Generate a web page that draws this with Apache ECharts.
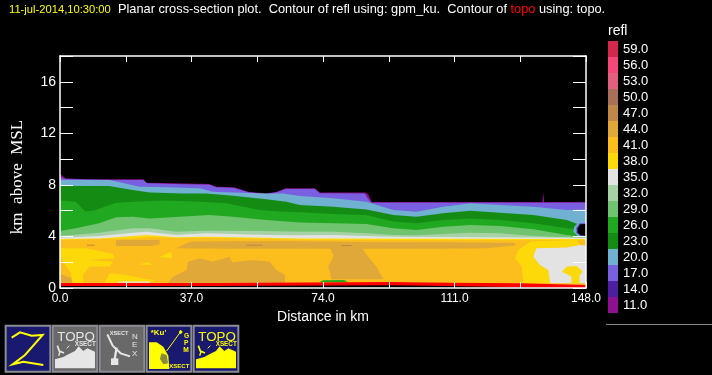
<!DOCTYPE html>
<html>
<head>
<meta charset="utf-8">
<style>html,body{margin:0;padding:0;background:#000}#chart{width:712px;height:375px}</style>
<script src="https://cdn.jsdelivr.net/npm/echarts@6/dist/echarts.min.js"></script>
</head>
<body>
<div id="chart"></div>
<script>
// colour scale
var scaleLabels = ['11.0','14.0','17.0','20.0','23.0','26.0','29.0','32.0','35.0','38.0','41.0','44.0','47.0','50.0','53.0','56.0','59.0'];
var scaleColors = ['#8c1090','#4c1ea0','#7860e0','#70b0d0','#148c14','#20a820','#70c470','#a6d2a6','#e3e3e3','#fdd90a','#fbbe1c','#e0a838','#c08848','#a87058','#e0607e','#f4487a','#d2284c'];

// top of each reflectivity layer, [km along section, km above MSL]
var top11 = [[0,8.84],[1.5,8.51],[7,8.43],[23.5,8.43],[24.2,8.17],[32,8.12],[42,8.07],[44,7.86],[49,7.81],[53,7.47],[58,7.34],[61,7.47],[63.5,7.73],[71.7,7.73],[73.1,7.4],[85.8,7.4],[86.7,7.3],[87.7,6.67],[135.7,6.67],[136,7.4],[136.2,6.67],[148,6.67]];
var top17 = [[0,8.6],[1.5,8.46],[15,8.38],[23.5,8.38],[24.5,8.12],[32,8.07],[42,8.02],[44,7.81],[49,7.76],[53,7.43],[58,7.3],[61,7.43],[63.5,7.68],[71.7,7.68],[73.1,7.35],[85.8,7.34],[86.7,6.9],[87.7,6.62],[136,6.62],[148,6.62]];
var top20 = [[0,8.38],[14,8.38],[22.4,7.86],[29.9,7.81],[39.3,7.73],[43,7.47],[48.7,7.4],[53.4,7.38],[58,7.34],[62.8,7.34],[67.5,7.14],[76.9,6.96],[86.2,6.7],[93.8,6.05],[100.3,5.92],[107.8,6.31],[115.4,6.57],[123.8,6.44],[133.2,6.31],[142.6,6.05],[148,6.1]];
var top23 = [[0,7.91],[13.8,7.91],[20.5,7.6],[25.2,7.4],[34.6,7.34],[41,7.34],[48.7,7.16],[58,6.88],[63.7,6.7],[67.5,6.44],[76.9,6.31],[86.2,6.1],[93.8,5.66],[100.3,5.53],[107.8,5.79],[115.4,5.99],[123.8,5.84],[133.2,5.66],[142.6,5.28],[145,5.02],[148,4.8]];
var top26 = [[0,6.78],[4.4,6.7],[7.2,5.92],[10,6.05],[15.8,6.62],[20.5,6.7],[29.9,6.78],[39.3,6.7],[46.8,6.57],[56.2,6.05],[62.8,5.92],[67.5,5.87],[76.9,5.74],[86.2,5.66],[93.8,5.15],[100.3,5.02],[107.8,5.28],[115.4,5.4],[123.8,5.28],[133.2,5.02],[142.6,4.63],[148,4.5]];
var top29 = [[0,4.42],[4.4,4.63],[11,5.02],[15.8,5.48],[20.5,5.53],[25.2,5.4],[42,5.66],[48.7,5.53],[58,5.28],[67.5,5.09],[76.9,5.02],[86.2,4.97],[93.8,4.63],[100.3,4.5],[107.8,4.76],[115.4,4.89],[123.8,4.81],[133.2,4.55],[142.6,4.11],[148,3.93]];
var top32 = [[0,4.03],[11,4.29],[20.5,4.63],[25.2,4.63],[32.7,4.37],[41,4.45],[56,4.42],[67.5,4.37],[76.9,4.37],[86.2,4.24],[93.8,4.11],[100.3,4.09],[107.8,4.19],[115.4,4.29],[123.8,4.24],[133.2,4.03],[142.6,3.93],[148,3.85]];
var top35 = [[0,3.9],[11,4.03],[20.5,4.29],[24.5,4.37],[32.7,4.11],[41,4.24],[58,4.11],[67.5,4.1],[76.9,4.11],[86.2,4.03],[93.8,3.98],[148,3.9]];
var top38 = [[0,3.8],[11,3.85],[20.5,4.03],[24.5,4.11],[32.7,3.93],[41,3.98],[58,3.9],[67.5,3.85],[148,3.8]];
var top41 = [[0,3.72],[11,3.8],[20.5,3.85],[24.5,3.93],[32.7,3.87],[41,3.9],[58,3.82],[67.5,3.75],[90,3.72],[148,3.7]];

// closed patches inside the rain layer
var band44a = [[15.8,3.72],[28,3.72],[28,3.4],[26,3.26],[15.8,3.26]];
var band44b = [[32.7,3.08],[35,3.4],[37,3.6],[48,3.62],[67.5,3.62],[90,3.55],[110,3.55],[128,3.5],[128,3.3],[120,3.08],[105,3.05],[90,3.05],[80,3.05],[69,3.05],[50,3.05]];
var blob44a = [[0,1.1],[3,0.8],[3.5,0.41],[0,0.41]];
var blob44b = [[30.4,0.41],[31.8,0.88],[35.6,1.4],[36,2.04],[39.3,2.3],[43,2.04],[47.7,2.43],[48.5,2.0],[54.3,2.17],[59,2.04],[60.9,1.4],[63.3,1],[63.3,0.41]];
var blob44c = [[76,3.1],[77,2.5],[75.5,1.66],[76.4,0.67],[91,0.67],[89,1.66],[86.7,2.43],[85,3.1]];
var blob38a = [[0,3.08],[7.4,3.08],[14.9,2.64],[15.4,2.3],[8.3,2.17],[14.9,2.04],[14,1.66],[8.3,1.66],[6.4,1],[6.6,0.41],[3.6,0.41],[3.1,1.14],[0,2.43]];
var blob38b = [[28,2.4],[31.3,2.82],[31.5,2.3]];
var blob38c = [[22,1.8],[24.5,2],[26.2,1.8]];
var blob38d = [[12.5,0.41],[14,1.14],[18.6,1],[24.3,0.67],[27,0.62],[25.2,0.41]];
var blob38e = [[130.4,0.36],[129.9,1.66],[128,2.3],[129,2.95],[132.3,3.6],[145.4,3.72],[146.3,3.34],[142.6,3.15],[134,3.08],[133.2,2.43],[135,1.78],[137.4,1.4],[137.9,0.36]];
var blob35a = [[134,3.08],[133.2,2.43],[135,1.78],[137.4,1.4],[137.9,0.36],[148,0.36],[148,3.3],[146.3,3.34],[142.6,3.15]];
var blob38f = [[143.9,0.36],[143.9,0.9],[141.2,1.27],[142.6,1.66],[145.4,1.71],[147.1,1.27],[146.2,1],[146.2,0.36]];
var blob35b = [[15.8,0.41],[17,0.5],[25,0.5],[25.5,0.41]];
var blob26a = [[73,0.45],[74,0.6],[80,0.62],[81,0.45]];
var blob47a = [[7.6,3.36],[9.7,3.36],[9.7,3.28],[7.6,3.28]];
var blob47b = [[52.4,3.36],[57.1,3.36],[57.1,3.28],[52.4,3.28]];
var blob47c = [[79.2,3.33],[82,3.33],[82,3.25],[79.2,3.25]];
// hole in the echo near the right edge
var ring20 = [[148,5.15],[145.9,5.09],[144.7,4.76],[144.4,4.37],[145.9,3.98],[148,3.93]];
var ring17 = [[148,5.07],[146.1,5.02],[145.2,4.68],[145.2,4.29],[146.3,4.03],[148,3.98]];
var ring00 = [[148,4.97],[146.3,4.94],[145.6,4.63],[145.6,4.29],[146.5,4.09],[148,4.03]];

// terrain
var topoTop = [[0,0.39],[43,0.39],[43,0.47],[93,0.47],[93,0.41],[108.8,0.41],[108.8,0.36],[129.5,0.36],[129.5,0.23],[148,0.23]];
var topoBase = [[0,0.16],[43,0.16],[43,0.21],[93,0.21],[93,0.16],[108.8,0.16],[108.8,0.05],[129.5,0.05],[129.5,0],[148,0]];

var xTicks = {min:0,max:148,interval:18.5};
var yTicks = {min:0,max:18,interval:2};

function colorOf(label){ return scaleColors[scaleLabels.indexOf(label)]; }

var layers = [
    [top11,'11.0'],[top17,'17.0'],[top20,'20.0'],[top23,'23.0'],[top26,'26.0'],[top29,'29.0'],
    [top32,'32.0'],[top35,'35.0'],[top38,'38.0'],[top41,'41.0']
];
var patches = [
    [band44a,'44.0'],[band44b,'44.0'],[blob44a,'44.0'],[blob44b,'44.0'],[blob44c,'44.0'],
    [blob38a,'38.0'],[blob38b,'38.0'],[blob38c,'38.0'],[blob38d,'38.0'],[blob38e,'38.0'],
    [blob35a,'35.0'],[blob38f,'38.0'],[blob35b,'35.0'],[blob26a,'26.0'],
    [blob47a,'47.0'],[blob47b,'47.0'],[blob47c,'47.0'],
    [ring20,'20.0'],[ring17,'17.0'],[ring00,null]
];

function areaSeries(pts,color,z){
    return {
        type:'line', z:z, data:pts, xAxisIndex:0, yAxisIndex:0, showSymbol:false, silent:true,
        lineStyle:{width:0}, areaStyle:{color:color,opacity:1,origin:'start'}
    };
}

var series = layers.map(function(l){ return areaSeries(l[0],colorOf(l[1]),3); });

// line series sit at z 3 by default, custom at 2
series.push({
    type:'custom', z:4, xAxisIndex:0, yAxisIndex:0, silent:true,
    data:patches.map(function(p,i){ return [i,1]; }),
    renderItem:function(params,api){
        var p = patches[params.dataIndex];
        return {
            type:'polygon',
            shape:{points:p[0].map(function(d){ return api.coord(d); })},
            style:{fill:p[1] ? colorOf(p[1]) : '#000'}
        };
    }
});
series.push(areaSeries(topoTop,'#ff0000',5));
series.push(areaSeries(topoBase,'#000',5));

// colour bar
series.push({
    type:'bar', xAxisIndex:2, yAxisIndex:2, silent:true, barCategoryGap:0,
    data:scaleColors.map(function(c){ return {value:1,itemStyle:{color:c}}; })
});

// icon strip, written in a 3x space
function icon(x,bg){
    return {type:'rect',shape:{x:x,y:32,width:134,height:138},style:{fill:bg,stroke:'#8c8c94',lineWidth:6}};
}
function txt(x,y,s,size,color,weight){
    return {type:'text',x:x,y:y,style:{text:s,font:(weight||'normal')+' '+size+'px "Liberation Sans"',fill:color,textVerticalAlign:'middle'}};
}
function poly(pts,color){ return {type:'polygon',shape:{points:pts},style:{fill:color}}; }
function curve(pts,color,w){ return {type:'polyline',shape:{points:pts},style:{stroke:color,lineWidth:w,fill:null}}; }
function topoIcon(dx,c){
    return [
        txt(172+dx,68,'TOPO',40,c),
        txt(224+dx,87,'XSECT',19,c,'bold'),
        poly([[165+dx,160],[165+dx,133],[190+dx,126],[205+dx,118],[225+dx,108],[236+dx,94],[250+dx,108],[262+dx,100],[285+dx,110],[285+dx,160]],c),
        curve([[172+dx,92],[178+dx,108],[192+dx,114]],c,5),
        curve([[200+dx,100],[208+dx,92]],c,3),
        curve([[180+dx,110],[176+dx,122]],c,4)
    ];
}
var iconParts = [icon(17,'#191970'),icon(158,'#696969'),icon(299,'#696969'),icon(440,'#191970'),icon(581,'#191970')];
iconParts.push(curve([[35,68],[60,52],[95,62],[128,60],[75,120],[38,148],[70,140],[130,150]],'#ffff00',6));
iconParts = iconParts.concat(topoIcon(0,'#e6e6e6'));
iconParts.push(txt(329,56,'XSECT',17,'#e6e6e6','bold'));
iconParts.push(txt(396,65,'N',24,'#e6e6e6'),txt(396,90,'E',24,'#e6e6e6'),txt(396,116,'X',24,'#e6e6e6'));
iconParts.push(curve([[322,58],[338,92],[362,115],[390,124]],'#e6e6e6',6));
iconParts.push(curve([[350,98],[344,132]],'#e6e6e6',7));
iconParts.push(poly([[333,130],[355,130],[355,150],[333,150]],'#e6e6e6'));
iconParts.push(txt(452,54,"*Ku'",24,'#ffff00','bold'));
iconParts.push(txt(552,62,'G',20,'#ffff00','bold'),txt(552,84,'P',20,'#ffff00','bold'),txt(550,106,'M',20,'#ffff00','bold'));
iconParts.push(txt(508,154,'XSECT',18,'#ffff00','bold'));
iconParts.push(poly([[447,82],[470,82],[490,95],[505,122],[508,162],[447,162]],'#ffff00'));
iconParts.push(poly([[484,115],[500,120],[504,145],[490,148],[480,132]],'#8a8a3c'));
iconParts.push(curve([[500,108],[542,50]],'#ffff00',3));
iconParts.push(poly([[542,44],[548,51],[542,58],[536,51]],'#ffff00'));
iconParts = iconParts.concat(topoIcon(423,'#ffff00'));

var titleFont = {fontFamily:'Liberation Sans',fontSize:12.8,fontWeight:'normal'};

var option = {
    backgroundColor:'#000',
    animation:false,
    title:{
        left:9, top:3, padding:0,
        text:'{d|11-jul-2014,10:30:00}{w|  Planar cross-section plot.  Contour of refl using: gpm_ku.  Contour of }{r|topo}{w| using: topo.}',
        textStyle:{
            fontWeight:'normal',
            rich:{
                d:{color:'#ffff00',fontFamily:'Liberation Sans',fontSize:11.2,fontWeight:'normal'},
                w:Object.assign({color:'#fff'},titleFont),
                r:Object.assign({color:'#ff0000'},titleFont)
            }
        }
    },
    grid:[
        {left:60,top:56,width:526,height:232},
        {left:608,top:41,width:10,height:272}
    ],
    xAxis:[
        {
            gridIndex:0,type:'value',position:'bottom',min:xTicks.min,max:xTicks.max,interval:xTicks.interval,z:10,
            name:'Distance in km',nameLocation:'middle',nameGap:18,
            nameTextStyle:{color:'#fff',fontFamily:'Liberation Sans',fontSize:14},
            axisLine:{onZero:false,lineStyle:{color:'#fff',width:1.5}},
            axisTick:{inside:true,length:6,lineStyle:{color:'#fff'}},
            splitLine:{show:false},
            axisLabel:{color:'#fff',fontFamily:'Liberation Sans',fontSize:12,margin:5,hideOverlap:false,showMinLabel:true,showMaxLabel:true,
                formatter:function(v){ return v % 37 === 0 ? v.toFixed(1) : ''; }}
        },
        {
            gridIndex:0,type:'value',position:'top',min:xTicks.min,max:xTicks.max,interval:xTicks.interval,z:10,
            axisLine:{onZero:false,lineStyle:{color:'#fff',width:1.5}},
            axisTick:{inside:true,length:6,lineStyle:{color:'#fff'}},
            splitLine:{show:false},axisLabel:{show:false}
        },
        {gridIndex:1,type:'value',min:0,max:1,show:false}
    ],
    yAxis:[
        {
            gridIndex:0,type:'value',position:'left',min:yTicks.min,max:yTicks.max,interval:yTicks.interval,z:10,
            name:'km  above  MSL',nameLocation:'middle',nameGap:34,
            nameTextStyle:{color:'#fff',fontFamily:'Liberation Serif',fontSize:17,padding:[0,10,0,0]},
            axisLine:{onZero:false,lineStyle:{color:'#fff',width:1.5}},
            axisTick:{inside:true,length:13,lineStyle:{color:'#fff'}},
            splitLine:{show:false},
            axisLabel:{color:'#fff',fontFamily:'Liberation Sans',fontSize:14,margin:4,padding:[0,0,12,0],showMinLabel:true,
                formatter:function(v){ return v % 4 === 0 ? String(v) : ''; }}
        },
        {
            gridIndex:0,type:'value',position:'right',min:yTicks.min,max:yTicks.max,interval:yTicks.interval,z:10,
            axisLine:{onZero:false,lineStyle:{color:'#fff',width:1.5}},
            axisTick:{inside:true,length:13,lineStyle:{color:'#fff'}},
            splitLine:{show:false},axisLabel:{show:false}
        },
        {
            gridIndex:1,type:'category',position:'right',data:scaleLabels,
            name:'refl',nameLocation:'end',nameGap:3,
            nameTextStyle:{color:'#fff',fontFamily:'Liberation Sans',fontSize:14,align:'left'},
            axisLine:{show:false},axisTick:{show:false},splitLine:{show:false},
            axisLabel:{color:'#fff',fontFamily:'Liberation Sans',fontSize:13,margin:5,interval:0}
        }
    ],
    graphic:[
        {type:'line',shape:{x1:606,y1:324.5,x2:712,y2:324.5},style:{stroke:'#888',lineWidth:1},silent:true},
        {type:'group',x:0,y:315,scaleX:1/3,scaleY:1/3,silent:true,children:iconParts}
    ],
    series:series
};

var chart = echarts.init(document.getElementById('chart'),null,{renderer:'canvas'});
chart.setOption(option);
</script>
</body>
</html>
